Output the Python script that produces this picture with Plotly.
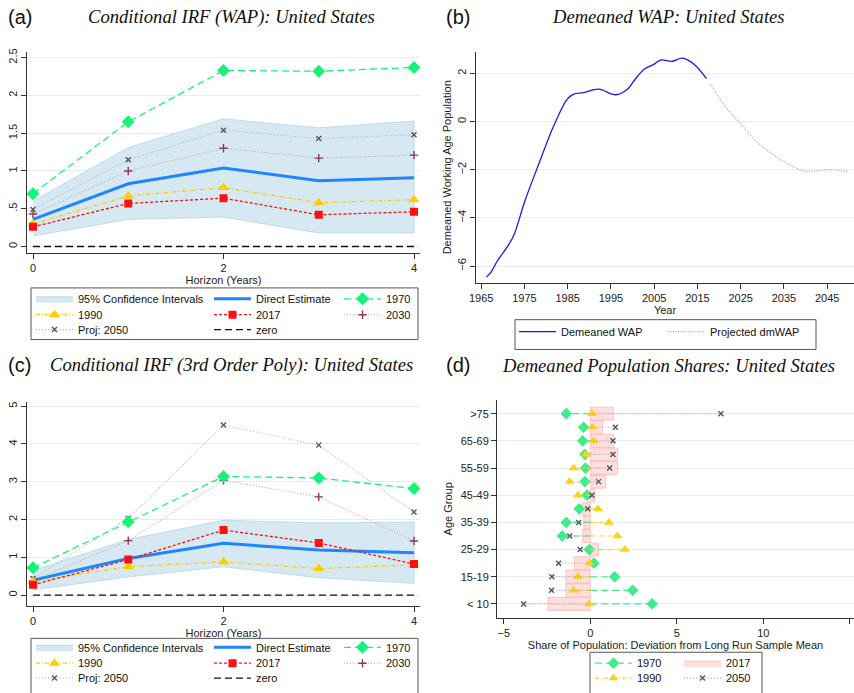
import plotly.graph_objects as go

W, H = 854, 693
def PX(x): return x / W
def PY(y): return 1 - y / H

SANS = "Liberation Sans, Arial, sans-serif"
SERIF = "Liberation Serif, Times New Roman, serif"

# ---------------- data ----------------
horizon = [0, 1, 2, 3, 4]
irf_legend_names = ["95% Confidence Intervals", "Direct Estimate", "1970", "1990", "2017", "2030", "Proj: 2050", "zero"]

# Panel (a): Conditional IRF (WAP)
a_ci_upper = [0.60, 1.31, 1.69, 1.57, 1.66]
a_ci_lower = [0.14, 0.36, 0.39, 0.18, 0.18]
a_direct = [0.36, 0.83, 1.04, 0.87, 0.91]
a_1970 = [0.70, 1.65, 2.33, 2.32, 2.37]
a_1990 = [0.30, 0.67, 0.78, 0.58, 0.62]
a_2017 = [0.26, 0.57, 0.64, 0.42, 0.46]
a_2030 = [0.43, 1.00, 1.30, 1.17, 1.21]
a_2050 = [0.49, 1.15, 1.54, 1.43, 1.48]
zero = [0, 0, 0, 0, 0]
a_yticks = [0, 0.5, 1, 1.5, 2, 2.5]
a_yticktext = ["0", ".5", "1", "1.5", "2", "2.5"]

# Panel (c): Conditional IRF (3rd order poly)
c_ci_upper = [0.65, 1.47, 1.98, 1.91, 1.93]
c_ci_lower = [0.14, 0.48, 0.75, 0.46, 0.31]
c_direct = [0.39, 0.97, 1.37, 1.19, 1.12]
c_1970 = [0.72, 1.94, 3.14, 3.10, 2.82]
c_1990 = [0.36, 0.75, 0.88, 0.70, 0.80]
c_2017 = [0.27, 0.94, 1.72, 1.38, 0.82]
c_2030 = [0.38, 1.44, 3.04, 2.60, 1.43]
c_2050 = [0.44, 2.03, 4.50, 3.97, 2.20]
c_yticks = [0, 1, 2, 3, 4, 5]

# Panel (b): Demeaned WAP
wap_years = [1966.2, 1967.2, 1968.7, 1971.4, 1972.6, 1975.1, 1978.2, 1981.8, 1984.9, 1986.4,
             1988.7, 1992.2, 1996.1, 1998.8, 2000.3, 2002.6, 2004.9, 2006.5, 2009.2, 2011.5,
             2014.2, 2017.1]
wap_values = [-6.45, -6.27, -5.8, -5.1, -4.7, -3.3, -1.82, -0.17, 0.93, 1.14,
              1.2, 1.34, 1.11, 1.34, 1.68, 2.16, 2.37, 2.55, 2.5, 2.63,
              2.38, 1.78]
proj_years = [2018.0, 2021.9, 2025.0, 2028.0, 2032.7, 2036.5, 2039.6, 2041.9, 2045.8, 2050.0]
proj_values = [1.55, 0.52, -0.1, -0.72, -1.4, -1.81, -2.05, -2.06, -2.0, -2.09]
b_xticks = [1965, 1975, 1985, 1995, 2005, 2015, 2025, 2035, 2045]
b_yticks = [-6, -4, -2, 0, 2]
b_yticktext = ["\u22126", "\u22124", "\u22122", "0", "2"]

# Panel (d): Demeaned population shares
age_groups = ["< 10", "10-14", "15-19", "20-24", "25-29", "30-34", "35-39", "40-44",
              "45-49", "50-54", "55-59", "60-64", "65-69", "70-74", ">75"]
d_1970 = [3.58, 2.45, 1.41, 0.21, -0.06, -1.62, -1.39, -0.64, -0.19, -0.31, -0.27, -0.31, -0.44, -0.39, -1.39]
d_1990 = [-0.08, -0.96, -0.71, -0.06, 2.00, 1.56, 1.08, 0.44, -0.71, -1.19, -0.96, -0.23, 0.19, 0.13, 0.10]
d_2017 = [-2.45, -1.41, -1.41, -0.92, 0.48, -0.46, -0.37, -0.48, 0.27, 0.89, 1.58, 1.58, 1.35, 0.71, 1.35]
d_2050 = [-3.85, -2.24, -2.22, -1.83, -0.58, -1.19, -0.67, -0.15, 0.10, 0.48, 1.12, 1.31, 1.31, 1.45, 7.55]
d_yticks = age_groups[::2]
d_xticks = [-5, 0, 5, 10, 15]
d_xticktext = ["\u22125", "0", "5", "10", "15"]

# ---------------- styles ----------------
C_BAND = "#d6e9f2"
C_BAND_LINE = "#bddcea"
C_DIRECT = "#1f86ff"
C_1970 = "#14f47a"
C_1990 = "#ffcc00"
C_2017 = "#ff1010"
C_2030 = "#c8a2a8"
C_2030_M = "#8e3a4c"
C_2050 = "#b4b4b4"
C_2050_M = "#555555"
GRID = "#e4edf0"
AXIS = "#333333"

fig = go.Figure()

def irf_panel(xa, ya, up, lo, direct, s1970, s1990, s2017, s2030, s2050, legs):
    fig.add_trace(go.Scatter(x=horizon + horizon[::-1], y=up + lo[::-1], fill="toself",
                             fillcolor=C_BAND, line=dict(color=C_BAND_LINE, width=1), mode="lines",
                             name=irf_legend_names[0], legend=legs[0], xaxis=xa, yaxis=ya, hoverinfo="skip"))
    fig.add_trace(go.Scatter(x=horizon, y=zero, mode="lines", line=dict(color="#111111", width=1.3, dash="7px,4px"),
                             name=irf_legend_names[7], legend=legs[7], xaxis=xa, yaxis=ya))
    fig.add_trace(go.Scatter(x=horizon, y=s2050, mode="lines+markers",
                             line=dict(color=C_2050, width=1.1, dash="1px,2px"),
                             marker=dict(symbol="x-thin", size=5, color=C_2050_M, line=dict(color=C_2050_M, width=1.4)),
                             name=irf_legend_names[6], legend=legs[6], xaxis=xa, yaxis=ya))
    fig.add_trace(go.Scatter(x=horizon, y=s2030, mode="lines+markers",
                             line=dict(color=C_2030, width=1.1, dash="1px,2px"),
                             marker=dict(symbol="cross-thin", size=6, color=C_2030_M, line=dict(color=C_2030_M, width=1.4)),
                             name=irf_legend_names[5], legend=legs[5], xaxis=xa, yaxis=ya))
    fig.add_trace(go.Scatter(x=horizon, y=direct, mode="lines", line=dict(color=C_DIRECT, width=3),
                             name=irf_legend_names[1], legend=legs[1], xaxis=xa, yaxis=ya))
    fig.add_trace(go.Scatter(x=horizon, y=s1970, mode="lines+markers",
                             line=dict(color=C_1970, width=1.3, dash="7px,4px"),
                             marker=dict(symbol="diamond", size=10, color=C_1970),
                             name=irf_legend_names[2], legend=legs[2], xaxis=xa, yaxis=ya))
    fig.add_trace(go.Scatter(x=horizon, y=s1990, mode="lines+markers",
                             line=dict(color=C_1990, width=1.3, dash="4px,2px,1px,2px"),
                             marker=dict(symbol="triangle-up", size=10, color=C_1990),
                             name=irf_legend_names[3], legend=legs[3], xaxis=xa, yaxis=ya))
    fig.add_trace(go.Scatter(x=horizon, y=s2017, mode="lines+markers",
                             line=dict(color=C_2017, width=1.3, dash="3px,2px"),
                             marker=dict(symbol="square", size=8, color=C_2017),
                             name=irf_legend_names[4], legend=legs[4], xaxis=xa, yaxis=ya))

irf_panel("x", "y", a_ci_upper, a_ci_lower, a_direct, a_1970, a_1990, a_2017, a_2030, a_2050,
          ["legend", "legend2", "legend3", "legend4", "legend5", "legend6", "legend7", "legend8"])
irf_panel("x3", "y3", c_ci_upper, c_ci_lower, c_direct, c_1970, c_1990, c_2017, c_2030, c_2050,
          ["legend9", "legend10", "legend11", "legend12", "legend13", "legend14", "legend15", "legend16"])

# Panel (b)
fig.add_trace(go.Scatter(x=wap_years, y=wap_values, mode="lines", line=dict(color="#1a1ae6", width=1.3, shape="spline"),
                         name="Demeaned WAP", legend="legend17", xaxis="x2", yaxis="y2"))
fig.add_trace(go.Scatter(x=proj_years, y=proj_values, mode="lines",
                         line=dict(color="#9a9af5", width=1.2, dash="1px,1.5px", shape="spline"),
                         name="Projected dmWAP", legend="legend18", xaxis="x2", yaxis="y2"))

# Panel (d)
D_GREEN = "#3fec8c"
D_YELLOW = "#ffd21a"
fig.add_trace(go.Bar(y=age_groups, x=d_2017, orientation="h", width=0.96,
                     marker=dict(color="rgba(255,190,190,0.5)", line=dict(color="rgba(250,170,170,0.6)", width=1)),
                     showlegend=False, xaxis="x4", yaxis="y4"))

def spikes(vals):
    xs, ys = [], []
    for g, v in zip(age_groups, vals):
        xs += [0, v, None]
        ys += [g, g, None]
    return xs, ys

for vals, col, dash, msym, msize, mcol, mline in [
        (d_1970, D_GREEN, "7px,4px", "diamond", 9, D_GREEN, 0),
        (d_1990, D_YELLOW, "4px,2px,1px,2px", "triangle-up", 9, D_YELLOW, 0),
        (d_2050, "#a8a8a8", "1px,2px", "x-thin", 5, "#555555", 1.4)]:
    xs, ys = spikes(vals)
    fig.add_trace(go.Scatter(x=xs, y=ys, mode="lines", line=dict(color=col, width=1.2, dash=dash),
                             showlegend=False, xaxis="x4", yaxis="y4", hoverinfo="skip"))
    fig.add_trace(go.Scatter(x=vals, y=age_groups, mode="markers",
                             marker=dict(symbol=msym, size=msize, color=mcol, line=dict(color=mcol, width=mline)),
                             showlegend=False, xaxis="x4", yaxis="y4"))

# legend-only entries for panel (d)
fig.add_trace(go.Scatter(x=[None], y=[None], mode="lines+markers", name="1970",
                         line=dict(color=D_GREEN, width=1.2, dash="7px,4px"),
                         marker=dict(symbol="diamond", size=9, color=D_GREEN),
                         legend="legend19", xaxis="x4", yaxis="y4"))
fig.add_trace(go.Scatter(x=[None], y=[None], mode="lines", fill="toself", name="2017",
                         fillcolor="rgba(255,190,190,0.5)", line=dict(color="rgba(250,170,170,0.6)", width=1),
                         legend="legend20", xaxis="x4", yaxis="y4"))
fig.add_trace(go.Scatter(x=[None], y=[None], mode="lines+markers", name="1990",
                         line=dict(color=D_YELLOW, width=1.2, dash="4px,2px,1px,2px"),
                         marker=dict(symbol="triangle-up", size=9, color=D_YELLOW),
                         legend="legend21", xaxis="x4", yaxis="y4"))
fig.add_trace(go.Scatter(x=[None], y=[None], mode="lines+markers", name="2050",
                         line=dict(color="#a8a8a8", width=1.2, dash="1px,2px"),
                         marker=dict(symbol="x-thin", size=5, color="#555555", line=dict(color="#555555", width=1.4)),
                         legend="legend22", xaxis="x4", yaxis="y4"))

# ---------------- axes ----------------
tickfont = dict(family=SANS, size=11, color="#222222")
titlefont = dict(family=SANS, size=11, color="#222222")
common = dict(showline=True, linecolor=AXIS, linewidth=1, ticks="outside", ticklen=5, tickcolor=AXIS,
              tickfont=tickfont, zeroline=False, automargin=False)

layout = dict(
    width=W, height=H, margin=dict(l=0, r=0, t=0, b=0), paper_bgcolor="white", plot_bgcolor="white",
    showlegend=True, hovermode=False,
    xaxis=dict(domain=[PX(27), PX(420)], anchor="y", range=[-0.063, 4.063], tickvals=[0, 2, 4],
               showgrid=False, title=dict(text="Horizon (Years)", font=titlefont, standoff=2), **common),
    yaxis=dict(domain=[PY(255), PY(52)], anchor="x", range=[-0.088, 2.58], tickvals=a_yticks,
               ticktext=a_yticktext, tickangle=-90, showgrid=True, gridcolor=GRID, **common),
    xaxis3=dict(domain=[PX(27), PX(420)], anchor="y3", range=[-0.063, 4.063], tickvals=[0, 2, 4],
                showgrid=False, title=dict(text="Horizon (Years)", font=titlefont, standoff=2), **common),
    yaxis3=dict(domain=[PY(610), PY(405)], anchor="x3", range=[-0.28, 5.11], tickvals=c_yticks,
                tickangle=-90, showgrid=True, gridcolor=GRID, **common),
    xaxis2=dict(domain=[PX(476), 1.0], anchor="y2", range=[1963.8, 2051.2], tickvals=b_xticks,
                showgrid=False, title=dict(text="Year", font=titlefont, standoff=2), **common),
    yaxis2=dict(domain=[PY(285), PY(52)], anchor="x2", range=[-6.7, 2.9], tickvals=b_yticks,
                ticktext=b_yticktext, tickangle=-90, showgrid=True, gridcolor=GRID,
                title=dict(text="Demeaned Working Age Population", font=titlefont, standoff=1), **common),
    xaxis4=dict(domain=[PX(497), 1.0], anchor="y4", range=[-5.39, 15.24], tickvals=d_xticks,
                ticktext=d_xticktext, showgrid=False,
                title=dict(text="Share of Population: Deviation from Long Run Sample Mean", font=titlefont, standoff=2),
                **common),
    yaxis4=dict(domain=[PY(622), PY(403)], anchor="x4", type="category", categoryorder="array",
                categoryarray=age_groups, range=[-1, 15], tickmode="array", tickvals=d_yticks,
                showgrid=True, gridcolor=GRID,
                title=dict(text="Age Group", font=titlefont, standoff=5), **common),
    barmode="overlay",
)

def leg(x_px, y_px):
    return dict(x=PX(x_px - 5), y=PY(y_px), xanchor="left", yanchor="middle", orientation="v",
                bgcolor="rgba(0,0,0,0)", borderwidth=0, tracegroupgap=0, itemwidth=37,
                font=dict(family=SANS, size=11, color="#111111"))

cols_ac = [36, 214, 344]
rows_a = [301, 317, 332]
rows_c = [652, 668, 683]
cells = [(0, 0), (0, 1), (0, 2), (1, 0), (1, 1), (1, 2), (2, 0), (2, 1)]
for i, (r, c) in enumerate(cells):
    layout["legend" if i == 0 else "legend%d" % (i + 1)] = leg(cols_ac[c], rows_a[r])
    layout["legend%d" % (i + 9)] = leg(cols_ac[c], rows_c[r])
layout["legend17"] = leg(519, 334)
layout["legend18"] = leg(668, 334)
layout["legend19"] = leg(595, 668)
layout["legend20"] = leg(684, 668)
layout["legend21"] = leg(595, 683)
layout["legend22"] = leg(684, 683)

fig.update_layout(**layout)

# legend frames
for (x0, y0, x1, y1) in [(31, 290, 418, 342), (31, 643, 418, 700), (515, 322, 816, 352), (590, 657, 762, 700)]:
    fig.add_shape(type="rect", xref="paper", yref="paper", x0=PX(x0), x1=PX(x1), y0=PY(y1), y1=PY(y0),
                  line=dict(color="#555555", width=1), fillcolor="rgba(0,0,0,0)", layer="above")

# titles and panel labels
for (lbl, lx, tx, ty, title) in [("(a)", 6, 231, 17, "Conditional IRF (WAP): United States"),
                                  ("(b)", 444, 668, 17, "Demeaned WAP: United States"),
                                  ("(c)", 6, 231, 368, "Conditional IRF (3rd Order Poly): United States"),
                                  ("(d)", 444, 668, 368, "Demeaned Population Shares: United States")]:
    fig.add_annotation(text=lbl, x=PX(lx), y=PY(ty), xref="paper", yref="paper", xanchor="left", yanchor="middle",
                       showarrow=False, font=dict(family=SANS, size=20, color="#111111"))
    fig.add_annotation(text="<i>%s</i>" % title, x=PX(tx), y=PY(ty), xref="paper", yref="paper",
                       xanchor="center", yanchor="middle", showarrow=False,
                       font=dict(family=SERIF, size=18.6, color="#111111"))

fig.write_html("out.html", config={"displayModeBar": False, "staticPlot": True},
               post_script="document.body.style.margin='0px';document.body.style.overflow='hidden';")
